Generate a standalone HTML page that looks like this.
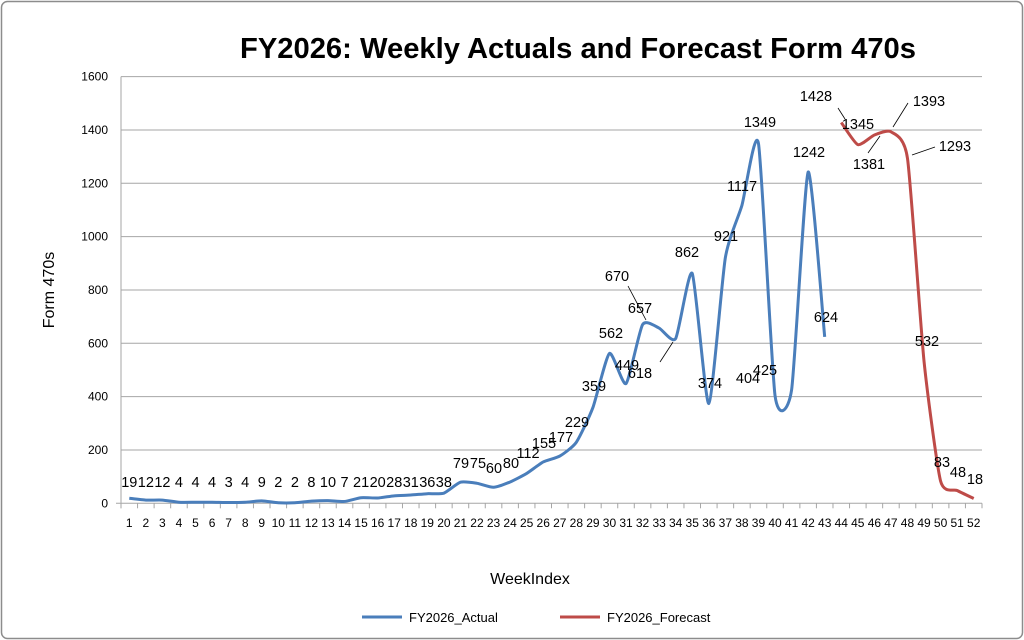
<!DOCTYPE html>
<html><head><meta charset="utf-8"><style>
html,body{margin:0;padding:0;background:#fff;}
svg{display:block;font-family:"Liberation Sans",sans-serif;}
</style></head><body>
<svg id="c" width="1024" height="640" viewBox="0 0 1024 640" xmlns="http://www.w3.org/2000/svg">
<rect x="1.5" y="1.5" width="1021" height="637" rx="6" fill="#fff" stroke="#8c8c8c" stroke-width="1.5"/>
<text x="578" y="58" font-size="29" font-weight="bold" text-anchor="middle" fill="#000" textLength="676" lengthAdjust="spacingAndGlyphs">FY2026: Weekly Actuals and Forecast Form 470s</text>
<g id="grid" stroke="#a6a6a6" stroke-width="1"></g>
<g id="ylab" font-size="12" text-anchor="end" fill="#000"></g>
<g id="xlab" font-size="12" text-anchor="middle" fill="#000"></g>
<text transform="translate(54,290) rotate(-90)" font-size="16" text-anchor="middle">Form 470s</text>
<text x="530" y="584" font-size="16" text-anchor="middle">WeekIndex</text>
<path id="pa" fill="none" stroke="#4a7ebb" stroke-width="3"/>
<path id="pf" fill="none" stroke="#be4b48" stroke-width="3"/>
<g stroke="#000" stroke-width="0.8">
<line x1="628" y1="286" x2="646" y2="320"/>
<line x1="660" y1="362" x2="673" y2="342"/>
<line x1="838" y1="108" x2="845" y2="119"/>
<line x1="868" y1="153" x2="880" y2="136"/>
<line x1="908" y1="103" x2="893" y2="127"/>
<line x1="935" y1="147" x2="912" y2="155"/>
</g>
<g id="dl" font-size="14.5" text-anchor="middle" fill="#000"></g>
<line x1="362" y1="617" x2="402" y2="617" stroke="#4a7ebb" stroke-width="3"/>
<text x="409" y="622" font-size="13">FY2026_Actual</text>
<line x1="560" y1="617" x2="600" y2="617" stroke="#be4b48" stroke-width="3"/>
<text x="607" y="622" font-size="13">FY2026_Forecast</text>
</svg>
<script>
var NS="http://www.w3.org/2000/svg";
function el(p,t,a,txt){var e=document.createElementNS(NS,t);for(var k in a)e.setAttribute(k,a[k]);if(txt!==undefined)e.textContent=txt;document.getElementById(p).appendChild(e);}
var x0=121,x1=982,y0=503.3,sc=426.7/1600,w=(x1-x0)/52;
function X(i){return x0+w*(i-0.5);}function Y(v){return y0-v*sc;}
for(var v=200;v<=1600;v+=200)el("grid","line",{x1:x0,x2:x1,y1:Y(v),y2:Y(v)});
for(var v=0;v<=1600;v+=200)el("ylab","text",{x:108,y:Y(v)+4},v);
el("grid","line",{x1:x0,x2:x0,y1:Y(1600),y2:y0+5});
el("grid","line",{x1:x0-5,x2:x1,y1:y0,y2:y0});
for(var i=0;i<=52;i++)el("grid","line",{x1:x0+w*i,x2:x0+w*i,y1:y0,y2:y0+5});
for(var i=1;i<=52;i++)el("xlab","text",{x:X(i),y:527},i);
var A=[19,12,12,4,4,4,3,4,9,2,2,8,10,7,21,20,28,31,36,38,79,75,60,80,112,155,177,229,359,562,449,670,657,618,862,374,921,1117,1349,404,425,1242,624];
var F=[1428,1345,1381,1393,1293,532,83,48,18];
function path(vals,start){var p=vals.map(function(v,k){return [X(start+k),Y(v)];});var d="M"+p[0][0]+","+p[0][1];
for(var k=0;k<p.length-1;k++){var a=p[Math.max(k-1,0)],b=p[k],c=p[k+1],e=p[Math.min(k+2,p.length-1)],t=0.1;
d+=" C"+(b[0]+(c[0]-a[0])*t)+","+(b[1]+(c[1]-a[1])*t)+" "+(c[0]-(e[0]-b[0])*t)+","+(c[1]-(e[1]-b[1])*t)+" "+c[0]+","+c[1];}return d;}
document.getElementById("pa").setAttribute("d",path(A,1));
document.getElementById("pf").setAttribute("d",path(F,44));
var ov={21:[461,468],22:[478,468],23:[494,473],24:[511,468],25:[528,458],26:[544,448],27:[561,442],28:[577,427],29:[594,391],30:[611,338],31:[627,370],32:[617,281],33:[640,313],34:[640,378],35:[687,257],36:[710,388],37:[726,241],38:[742,191],39:[760,127],40:[748,383],41:[765,375],42:[809,157],43:[826,322],
44:[816,101],45:[858,129],46:[869,169],47:[929,106],48:[955,151],49:[927,346],50:[942,467],51:[958,477],52:[975,484]};
var all=A.concat(F);
for(var i=1;i<=52;i++){var v=all[i-1];var p=ov[i]||[X(i),487];el("dl","text",{x:p[0],y:p[1]},v);}
</script>
</body></html>
